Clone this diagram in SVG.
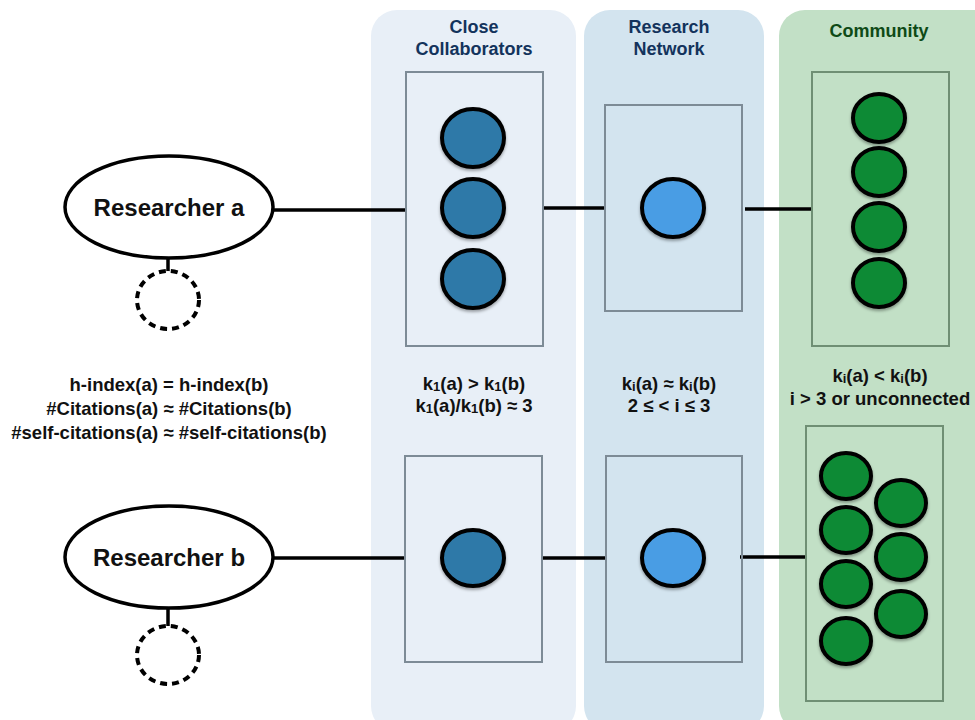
<svg xmlns="http://www.w3.org/2000/svg" width="975" height="720" viewBox="0 0 975 720">
<defs>
<filter id="sh" x="-30%" y="-30%" width="160%" height="170%">
<feDropShadow dx="0" dy="2" stdDeviation="1.5" flood-color="#000" flood-opacity="0.35"/>
</filter>
<style>
text{font-family:"Liberation Sans",Arial,sans-serif;font-weight:bold;text-anchor:middle}
.lane-t{font-size:18px;fill:#13335c}
.lane-g{font-size:18px;fill:#0e4a16}
.lbl{font-size:18.5px;fill:#111}
.sub{font-size:13px}
.rname{font-size:24px;fill:#111}
.box{fill:none;stroke:#7d8b96;stroke-width:2}
.gbox{fill:none;stroke:#6f8f74;stroke-width:2}
.cc{fill:#2f79a8;stroke:#000;stroke-width:4;filter:url(#sh)}
.rn{fill:#4a9de4;stroke:#000;stroke-width:4;filter:url(#sh)}
.cm{fill:#118a34;stroke:#000;stroke-width:4;filter:url(#sh)}
.res{fill:#fff;stroke:#000;stroke-width:3.5}
.dash{fill:#fff;stroke:#000;stroke-width:4;stroke-dasharray:7 5}
.edge{stroke:#000;stroke-width:3.5;fill:none}
</style>
</defs>
<rect width="975" height="720" fill="#fff"/>

<g id="lanes">
<rect x="371" y="10" width="205" height="722" rx="26" fill="#e8eff7"/>
<rect x="584" y="10" width="180" height="722" rx="26" fill="#d3e4ef"/>
<rect x="779" y="10" width="220" height="722" rx="26" fill="#c2e0c6"/>
<text class="lane-t" x="474" y="33">Close</text>
<text class="lane-t" x="474" y="55">Collaborators</text>
<text class="lane-t" x="669" y="33">Research</text>
<text class="lane-t" x="669" y="55">Network</text>
<text class="lane-g" x="879" y="37">Community</text>
</g>

<g id="connectors">
<line class="edge" x1="273" y1="210" x2="406" y2="210"/>
<line class="edge" x1="542" y1="208" x2="606" y2="208"/>
<line class="edge" x1="745" y1="209" x2="812" y2="209"/>
<line class="edge" x1="273" y1="558" x2="405" y2="558"/>
<line class="edge" x1="541" y1="558" x2="606" y2="558"/>
<line class="edge" x1="740" y1="557" x2="806" y2="557"/>
<line class="edge" x1="168" y1="258" x2="168" y2="272"/>
<line class="edge" x1="168" y1="608" x2="168" y2="626"/>
</g>

<g id="researcher-a">
<ellipse class="res" cx="169" cy="207" rx="104" ry="51"/>
<text class="rname" x="169" y="216">Researcher a</text>
</g>
<g id="researcher-a-self">
<ellipse class="dash" cx="168" cy="300" rx="31" ry="29"/>
</g>
<g id="researcher-b">
<ellipse class="res" cx="169" cy="557" rx="104" ry="51"/>
<text class="rname" x="169" y="566">Researcher b</text>
</g>
<g id="researcher-b-self">
<ellipse class="dash" cx="168" cy="655" rx="31" ry="29"/>
</g>

<g id="metrics">
<text class="lbl" x="169" y="391">h-index(a) = h-index(b)</text>
<text class="lbl" x="169" y="415">#Citations(a) ≈ #Citations(b)</text>
<text class="lbl" x="169" y="439">#self-citations(a) ≈ #self-citations(b)</text>
</g>

<g id="cc-a">
<rect class="box" x="406" y="72" width="137" height="274"/>
<ellipse class="cc" cx="473" cy="138" rx="31" ry="29"/>
<ellipse class="cc" cx="473" cy="208" rx="31" ry="29"/>
<ellipse class="cc" cx="473" cy="279" rx="31" ry="29"/>
</g>
<g id="rn-a">
<rect class="box" x="605" y="105" width="137" height="206"/>
<ellipse class="rn" cx="673" cy="208" rx="31" ry="29"/>
</g>
<g id="cm-a">
<rect class="gbox" x="812" y="72" width="137" height="274"/>
<ellipse class="cm" cx="879" cy="118" rx="26" ry="24"/>
<ellipse class="cm" cx="879" cy="172" rx="26" ry="24"/>
<ellipse class="cm" cx="879" cy="227" rx="26" ry="24"/>
<ellipse class="cm" cx="879" cy="283" rx="26" ry="24"/>
</g>

<g id="cc-label">
<text class="lbl" x="474" y="390">k<tspan class="sub" dy="1">1</tspan><tspan dy="-1">(a) &gt; k</tspan><tspan class="sub" dy="1">1</tspan><tspan dy="-1">(b)</tspan></text>
<text class="lbl" x="474" y="412">k<tspan class="sub" dy="1">1</tspan><tspan dy="-1">(a)/k</tspan><tspan class="sub" dy="1">1</tspan><tspan dy="-1">(b) ≈ 3</tspan></text>
</g>
<g id="rn-label">
<text class="lbl" x="669" y="390">k<tspan class="sub" dy="1">i</tspan><tspan dy="-1">(a) ≈ k</tspan><tspan class="sub" dy="1">i</tspan><tspan dy="-1">(b)</tspan></text>
<text class="lbl" x="669" y="412">2 ≤ &lt; i ≤ 3</text>
</g>
<g id="cm-label">
<text class="lbl" x="880" y="382">k<tspan class="sub" dy="1">i</tspan><tspan dy="-1">(a) &lt; k</tspan><tspan class="sub" dy="1">i</tspan><tspan dy="-1">(b)</tspan></text>
<text class="lbl" x="880" y="405">i &gt; 3 or unconnected</text>
</g>

<g id="cc-b">
<rect class="box" x="405" y="456" width="137" height="206"/>
<ellipse class="cc" cx="473" cy="558" rx="31" ry="28"/>
</g>
<g id="rn-b">
<rect class="box" x="606" y="456" width="136" height="206"/>
<ellipse class="rn" cx="673" cy="558" rx="31" ry="28"/>
</g>
<g id="cm-b">
<rect class="gbox" x="806" y="426" width="137" height="275"/>
<ellipse class="cm" cx="846" cy="476" rx="25" ry="23"/>
<ellipse class="cm" cx="846" cy="530" rx="25" ry="23"/>
<ellipse class="cm" cx="846" cy="584" rx="25" ry="23"/>
<ellipse class="cm" cx="846" cy="641" rx="25" ry="23"/>
<ellipse class="cm" cx="901" cy="503" rx="25" ry="23"/>
<ellipse class="cm" cx="901" cy="557" rx="25" ry="23"/>
<ellipse class="cm" cx="901" cy="614" rx="25" ry="23"/>
</g>
</svg>
